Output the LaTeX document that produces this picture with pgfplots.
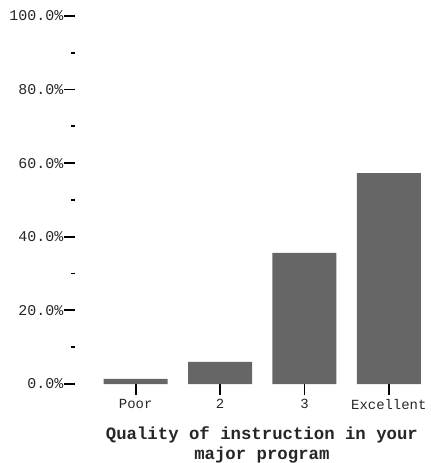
\documentclass[border=0pt]{standalone}
\usepackage{fontspec}
\setmonofont{Liberation Mono}
\usepackage{pgfplots}
\pgfplotsset{compat=1.18}
\definecolor{barg}{HTML}{666666}
\begin{document}
\begin{tikzpicture}
\useasboundingbox (0,0) rectangle (431bp,463bp);
\begin{axis}[
  at={(75bp,79bp)}, anchor=south west,
  scale only axis, width=356bp, height=368bp,
  xmin=-0.72, xmax=3.5, ymin=0, ymax=100,
  axis line style={draw=none},
  xtick={0,1,2,3},
  xticklabels={Poor,2,3,Excellent},
  ytick={0,20,40,60,80,100},
  yticklabels={0.0\%,20.0\%,40.0\%,60.0\%,80.0\%,100.0\%},
  minor ytick={10,30,50,70,90},
  xtick pos=bottom, ytick pos=left,
  tick align=outside,
  major tick length=11bp, minor tick length=4bp,
  every tick/.style={black, line width=1.8bp},
  ticklabel style={font=\fontsize{14}{16}\selectfont\ttfamily, text=black!85},
  yticklabel style={inner sep=0.5bp, font=\fontsize{15}{17}\selectfont\ttfamily},
  xticklabel style={inner sep=2bp, yshift=-2bp},
  xlabel={Quality of instruction in your\\major program},
  xlabel style={at={(axis description cs:0.525,0)}, anchor=north, yshift=-39bp,
    align=center, font=\fontsize{17.4}{20}\selectfont\ttfamily\bfseries, text=black!85},
  clip=false,
]
\addplot[ybar, bar width=64bp, fill=barg, draw=none] coordinates {
  (0,1.4) (1,6.0) (2,35.6) (3,57.3)
};
\end{axis}
\end{tikzpicture}
\end{document}
